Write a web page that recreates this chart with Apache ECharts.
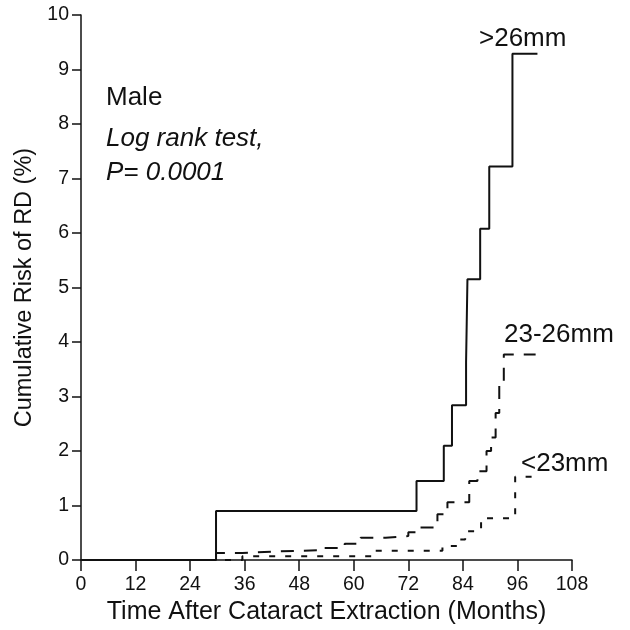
<!DOCTYPE html>
<html>
<head>
<meta charset="utf-8">
<script src="https://cdn.jsdelivr.net/npm/echarts@6/dist/echarts.min.js"></script>
<style>
  html, body { margin: 0; padding: 0; background: #fff; }
  #chart { width: 630px; height: 630px; }
</style>
</head>
<body>
<div id="chart"></div>
<script>
// Kaplan-Meier style cumulative risk, [month, %] (value holds from month onwards)
const over26 = [
  [0, 0], [29.7, 0.9], [73.8, 1.45], [79.8, 2.1], [81.6, 2.84], [84.7, 3.63],
  [84.85, 4.38], [85.0, 5.15], [87.8, 6.08], [89.8, 7.22], [94.9, 9.29], [100.4, 9.29]
];
const mid23to26 = [
  [0, 0], [29.7, 0.13], [35.5, 0.16], [43, 0.18], [52, 0.22], [58, 0.3],
  [61.5, 0.41], [67, 0.44], [72, 0.51], [74, 0.6], [78.4, 0.84], [80.6, 1.06],
  [85.4, 1.45], [87.2, 1.63], [89.2, 2.0], [90.2, 2.25], [91.2, 2.7], [92, 3.2],
  [93, 3.77], [100, 3.77]
];
const under23 = [
  [0, 0], [35.5, 0.07], [64, 0.17], [79.5, 0.26], [83, 0.38], [84.5, 0.53],
  [88, 0.77], [95.5, 1.53], [100.5, 1.53]
];
const xTicks = [0, 12, 24, 36, 48, 60, 72, 84, 96, 108];
const curveLabels = ['>26mm', '23-26mm', '<23mm'];

const chart = echarts.init(document.getElementById('chart'));
const font = 'Liberation Sans, Arial, sans-serif';

const option = {
  backgroundColor: '#fff',
  animation: false,
  grid: { left: 81, right: 58, top: 15, bottom: 69, containLabel: false },
  xAxis: {
    type: 'value',
    min: 0,
    max: 108,
    interval: 12,
    name: 'Time After Cataract Extraction (Months)',
    nameLocation: 'middle',
    nameGap: 35,
    nameTextStyle: { fontFamily: font, fontSize: 25, color: '#111' },
    axisLine: { show: true, onZero: false, lineStyle: { color: '#111', width: 1.5 } },
    axisTick: { show: true, inside: false, length: 11, lineStyle: { color: '#111', width: 1.5 } },
    axisLabel: {
      fontFamily: font, fontSize: 19.5, color: '#111', margin: 15,
      formatter: v => (xTicks.includes(v) ? String(v) : '')
    },
    splitLine: { show: false }
  },
  yAxis: {
    type: 'value',
    min: 0,
    max: 10,
    interval: 1,
    name: 'Cumulative Risk of RD (%)',
    nameLocation: 'middle',
    nameRotate: 90,
    nameGap: 43,
    nameTextStyle: { fontFamily: font, fontSize: 23.5, color: '#111' },
    axisLine: { show: true, lineStyle: { color: '#111', width: 1.5 } },
    axisTick: { show: true, inside: false, length: 9, lineStyle: { color: '#111', width: 1.5 } },
    axisLabel: { fontFamily: font, fontSize: 19.5, color: '#111', margin: 12 },
    splitLine: { show: false }
  },
  series: [
    {
      name: curveLabels[0],
      type: 'line',
      step: 'end',
      data: over26,
      symbol: 'none',
      lineStyle: { color: '#111', width: 2 },
      z: 5
    },
    {
      name: curveLabels[1],
      type: 'line',
      step: 'end',
      data: mid23to26,
      symbol: 'none',
      lineStyle: { color: '#111', width: 2, type: [13, 10] },
      z: 4
    },
    {
      name: curveLabels[2],
      type: 'line',
      step: 'end',
      data: under23,
      symbol: 'none',
      lineStyle: { color: '#111', width: 2, type: [6, 10] },
      z: 3
    }
  ],
  graphic: [
    { type: 'text', left: 106, top: 85, style: { text: 'Male', font: '26px ' + font, fill: '#111' } },
    { type: 'text', left: 106, top: 126, style: { text: 'Log rank test,', font: 'italic 26px ' + font, fill: '#111' } },
    { type: 'text', left: 106, top: 160, style: { text: 'P= 0.0001', font: 'italic 26px ' + font, fill: '#111' } },
    { type: 'text', left: 479, top: 26, style: { text: curveLabels[0], font: '26px ' + font, fill: '#111' } },
    { type: 'text', left: 504, top: 322, style: { text: curveLabels[1], font: '26px ' + font, fill: '#111' } },
    { type: 'text', left: 521, top: 451, style: { text: curveLabels[2], font: '26px ' + font, fill: '#111' } }
  ]
};

chart.setOption(option);
</script>
</body>
</html>
